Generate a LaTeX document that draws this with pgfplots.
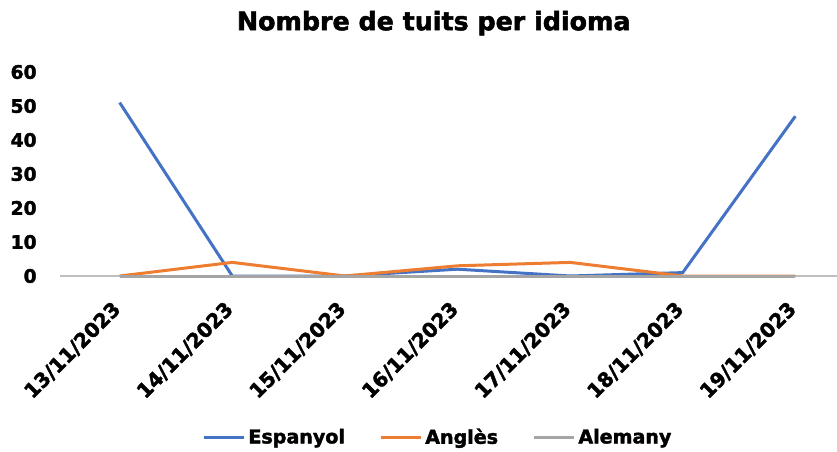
\documentclass[border=0pt]{standalone}
\usepackage{pgfplots}
\pgfplotsset{compat=1.18}
\usepackage{fontspec}
\setmainfont{DejaVu Sans}
\newfontfamily\heavy{DejaVu Sans Bold}[FakeBold=2]
\definecolor{cblue}{HTML}{4472C4}
\definecolor{corange}{HTML}{ED7D31}
\definecolor{cgray}{HTML}{A5A5A5}
\definecolor{caxis}{HTML}{BFBFBF}
\begin{document}
\begin{tikzpicture}[x=0.75pt,y=0.75pt]
\begin{axis}[
  at={(0,0)}, anchor=south west,
  scale only axis,
  width=582.75pt, height=153pt,
  xmin=-0.53, xmax=6.37,
  ymin=0, ymax=60,
  ytick={0,10,...,60},
  xtick={0,...,6},
  xticklabels={13/11/2023,14/11/2023,15/11/2023,16/11/2023,17/11/2023,18/11/2023,19/11/2023},
  x tick label style={rotate=45, anchor=north east, font=\fontsize{15}{16}\selectfont\heavy, inner sep=1pt, yshift=-7pt, xshift=-16pt},
  y tick label style={font=\fontsize{14}{15}\selectfont\heavy, xshift=-14pt},
  /pgf/number format/assume math mode=true,
  axis x line=bottom, axis y line=left,
  x axis line style={draw=caxis, line width=0.8pt, -},
  y axis line style={draw=none},
  major tick length=0pt,
  clip=false,
  title={Nombre de tuits per idioma},
  title style={at={(0.481,1.20)}, anchor=center, font=\fontsize{19}{20}\selectfont\heavy},
  legend style={at={(0.487,-0.79)}, anchor=center, draw=none, font=\fontsize{14.3}{15}\selectfont\heavy, /tikz/every even column/.append style={column sep=24pt}},
  legend columns=3,
  legend image code/.code={\draw[#1, line width=2.25pt] (0pt,0pt) -- (30pt,0pt);},
  every axis plot/.append style={line width=2.25pt, mark=none},
]
\addplot[cblue] coordinates {(0,51)(1,0)(2,0)(3,2)(4,0)(5,1)(6,47)};
\addplot[corange] coordinates {(0,0)(1,4)(2,0)(3,3)(4,4)(5,0)(6,0)};
\addplot[cgray] coordinates {(0,0)(1,0)(2,0)(3,0)(4,0)(5,0)(6,0)};
\legend{Espanyol,Anglès,Alemany}
\end{axis}
\pgfresetboundingbox
\path[use as bounding box] (-60,-176) rectangle (777,276);
\end{tikzpicture}
\end{document}
